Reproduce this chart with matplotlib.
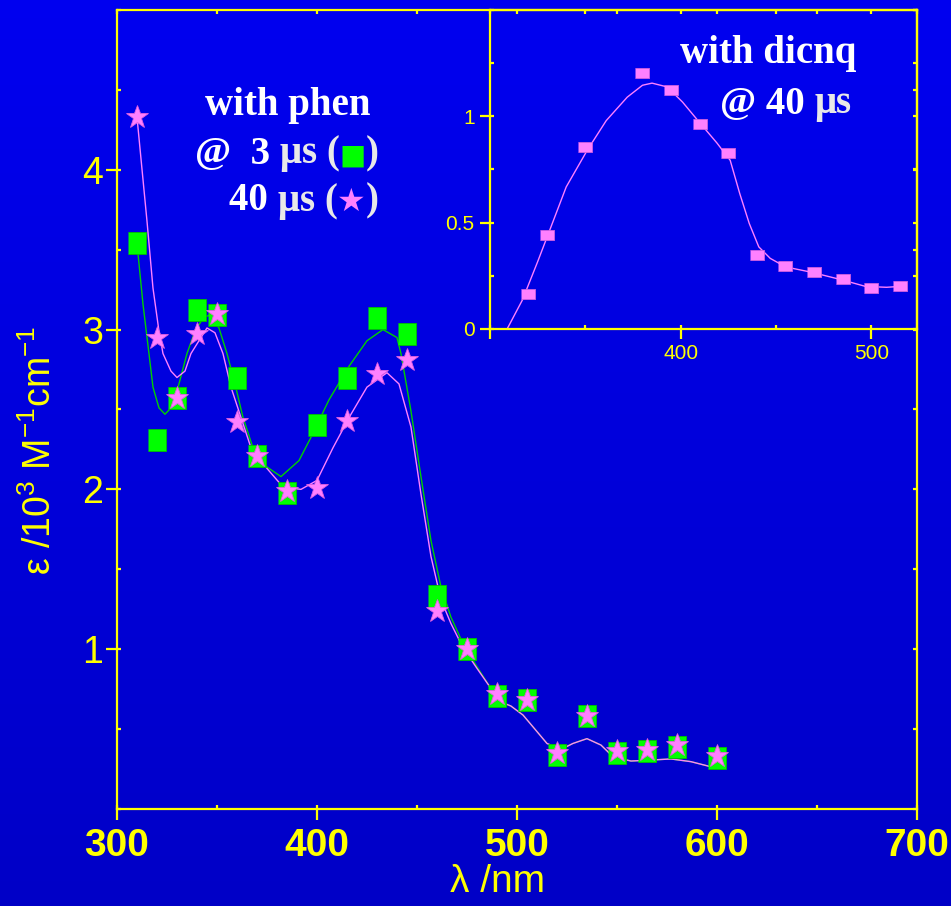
import numpy as np
import matplotlib
matplotlib.use("Agg")
import matplotlib.pyplot as plt
from matplotlib.ticker import MultipleLocator, FixedLocator
from matplotlib.offsetbox import TextArea, HPacker, AnnotationBbox

# measured points, main panel (epsilon / 10^3 M^-1 cm^-1)
wl = [310, 320, 330, 340, 350, 360, 370, 385, 400, 415, 430, 445, 460, 475,
      490, 505, 520, 535, 550, 565, 580, 600]
eps_3us = [3.54, 2.31, 2.57, 3.12, 3.09, 2.70, 2.21, 1.98, 2.40, 2.70, 3.07, 2.97,
           1.33, 1.00, 0.71, 0.68, 0.34, 0.58, 0.35, 0.36, 0.39, 0.32]
eps_40us = [4.33, 2.95, 2.57, 2.97, 3.10, 2.42, 2.21, 1.99, 2.01, 2.43, 2.72, 2.81,
            1.24, 1.00, 0.72, 0.68, 0.35, 0.58, 0.36, 0.37, 0.40, 0.33]

# smooth fit curves
fit3_wl = [310, 313, 316, 318, 321, 324, 327, 331, 335, 339, 343, 346, 351, 355,
           359, 363, 368, 375, 382, 391, 398, 406, 416, 425, 433, 440, 442, 447,
           452, 457, 462, 467, 473, 480, 487, 490, 497, 503, 508, 515, 522, 528,
           535, 542, 548, 557, 567, 577, 587, 597, 600]
fit3_eps = [3.54, 3.16, 2.85, 2.64, 2.51, 2.47, 2.51, 2.66, 2.85, 2.99, 3.07, 3.09,
            3.01, 2.85, 2.66, 2.45, 2.26, 2.14, 2.08, 2.18, 2.35, 2.56, 2.77, 2.93,
            3.00, 2.95, 2.85, 2.49, 2.08, 1.68, 1.39, 1.20, 1.035, 0.89, 0.754,
            0.68, 0.644, 0.588, 0.514, 0.41, 0.373, 0.41, 0.44, 0.40, 0.327, 0.30,
            0.306, 0.313, 0.296, 0.264, 0.26]
fit40_wl = [310, 315, 318, 321, 323, 327, 330, 334, 337, 342, 345, 349, 353, 357,
            362, 367, 373, 383, 392, 400, 408, 417, 425, 435, 441, 447, 452, 457,
            462, 467, 473, 480, 487, 490, 497, 503, 508, 515, 522, 528, 535, 542,
            548, 557, 567, 577, 587, 597, 600]
fit40_eps = [4.33, 3.68, 3.26, 2.99, 2.85, 2.74, 2.70, 2.74, 2.85, 2.95, 3.01, 2.98,
             2.85, 2.64, 2.45, 2.26, 2.16, 2.015, 2.00, 2.056, 2.26, 2.47, 2.64,
             2.73, 2.66, 2.39, 1.97, 1.58, 1.31, 1.16, 1.01, 0.88, 0.754, 0.68,
             0.644, 0.588, 0.514, 0.41, 0.373, 0.41, 0.44, 0.40, 0.327, 0.30,
             0.306, 0.313, 0.296, 0.264, 0.26]

# inset: with dicnq @ 40 us
ins_wl = [320, 330, 350, 380, 395, 410, 425, 440, 455, 470, 485, 500, 515]
ins_eps = [0.163, 0.443, 0.854, 1.203, 1.125, 0.966, 0.826, 0.346, 0.294, 0.266,
           0.233, 0.192, 0.200]
ins_fit_wl = [309, 317, 325, 332, 340, 351, 361, 372, 380, 385, 393, 401, 410, 419,
              426, 431, 436, 441, 447, 455, 469, 485, 497, 508, 515]
ins_fit_eps = [0.0, 0.136, 0.316, 0.48, 0.668, 0.84, 0.98, 1.09, 1.146, 1.156,
               1.138, 1.067, 0.97, 0.875, 0.793, 0.637, 0.496, 0.386, 0.332, 0.292,
               0.266, 0.23, 0.20, 0.196, 0.20]

YEL = '#ffff00'
GREEN = '#00ff00'
PINK = '#ff80ff'

plt.rcParams['font.family'] = ['Liberation Sans', 'DejaVu Sans']
plt.rcParams['mathtext.fontset'] = 'custom'
plt.rcParams['mathtext.rm'] = 'Liberation Sans'
plt.rcParams['mathtext.it'] = 'Liberation Sans'

fig = plt.figure(figsize=(9.51, 9.06), dpi=100)

# blue gradient background
bg = fig.add_axes([0, 0, 1, 1], zorder=-10)
grad = np.linspace(0.94, 0.78, 256).reshape(-1, 1)
rgb = np.zeros((256, 1, 3))
rgb[:, :, 2] = grad
bg.imshow(rgb, aspect='auto', extent=[0, 1, 0, 1])
bg.axis('off')

# main panel
ax = fig.add_axes([0.1230, 0.1071, 0.8412, 0.8819])
ax.set_facecolor('none')
ax.plot(fit3_wl, fit3_eps, color='#00d000', lw=1.0, zorder=2)
ax.plot(fit40_wl, fit40_eps, color=PINK, lw=1.0, zorder=3)
ax.plot(wl, eps_3us, ls='none', marker=[(-0.39, -0.5), (0.39, -0.5), (0.39, 0.5), (-0.39, 0.5)],
        markersize=16, color=GREEN, mec='#00c000', mew=0.6, zorder=4)
ax.plot(wl, eps_40us, ls='none', marker='*', markersize=17, color=PINK,
        mec='#e060e0', mew=0.6, zorder=5)

ax.set_xlim(300, 700)
ax.set_ylim(0, 5)
ax.set_xticks([300, 400, 500, 600, 700])
ax.set_yticks([1, 2, 3, 4])
ax.xaxis.set_minor_locator(MultipleLocator(50))
ax.yaxis.set_minor_locator(MultipleLocator(0.5))
ax.xaxis.remove_overlapping_locs = False
ax.yaxis.remove_overlapping_locs = False
for s in ax.spines.values():
    s.set_color(YEL)
    s.set_linewidth(1.6)
ax.tick_params(which='major', direction='out', length=8, width=1.6, color=YEL,
               labelcolor=YEL)
ax.tick_params(axis='x', which='major', labelsize=28, pad=6)
ax.tick_params(axis='y', which='major', labelsize=27, pad=2)
ax.tick_params(which='minor', direction='in', length=3, width=1.6, color=YEL,
               top=True, right=True)
for lab in ax.get_xticklabels():
    lab.set_fontweight('bold')

ax.set_xlabel('λ /nm', color=YEL, fontsize=28)
ax.xaxis.set_label_coords(0.476, -0.069)
ax.set_ylabel('ε /10$^{3}$ M$^{-1}$cm$^{-1}$', color=YEL, fontsize=27)
ax.yaxis.set_label_coords(-0.072, 0.449)

# legend-like text block
serif = ['Liberation Serif', 'DejaVu Serif']
fig.text(0.3028, 1 - 115 / 906, 'with phen', ha='center', va='baseline',
         color='white', fontsize=28, fontweight='bold', family=serif)


def text_line(parts, xy):
    boxes = [TextArea(s, textprops=dict(color=c, fontsize=fs, fontweight='bold',
                                        family=fam)) for s, c, fs, fam in parts]
    box = HPacker(children=boxes, align='baseline', pad=0, sep=0)
    ab = AnnotationBbox(box, xy, xycoords='figure fraction', frameon=False,
                        box_alignment=(0.5, 0.5), pad=0)
    fig.add_artist(ab)


text_line([('@  3 ', 'white', 28, serif), ('μs (', '#e8e8e8', 28, serif),
           ('■', GREEN, 20, ['DejaVu Sans']), (')', '#e8e8e8', 28, serif)],
          (287 / 951, 1 - 154 / 906))
text_line([('40 ', 'white', 28, serif), ('μs (', '#e8e8e8', 28, serif),
           ('★', PINK, 23, ['DejaVu Sans']), (')', '#e8e8e8', 28, serif)],
          (304 / 951, 1 - 201 / 906))

# inset
axin = fig.add_axes([0.5152, 0.6369, 0.4491, 0.3521])
axin.set_facecolor('none')
axin.plot(ins_fit_wl, ins_fit_eps, color=PINK, lw=1.0, zorder=2)
axin.plot(ins_wl, ins_eps, ls='none', marker=[(-0.5, -0.37), (0.5, -0.37), (0.5, 0.37), (-0.5, 0.37)],
          markersize=10, color=PINK, mec='#d060e0', mew=0.6, zorder=3)
axin.set_xlim(300, 524)
axin.set_ylim(0, 1.5)
axin.set_xticks([300, 400, 500])
axin.set_xticklabels(['', '400', '500'])
axin.set_yticks([0, 0.5, 1])
axin.set_yticklabels(['0', '0.5', '1'])
axin.xaxis.set_minor_locator(FixedLocator([300, 350, 400, 450, 500]))
axin.yaxis.set_minor_locator(MultipleLocator(0.25))
axin.xaxis.remove_overlapping_locs = False
axin.yaxis.remove_overlapping_locs = False
for s in axin.spines.values():
    s.set_color(YEL)
    s.set_linewidth(1.6)
axin.tick_params(which='major', direction='out', length=7, width=1.6, color=YEL,
                 labelcolor=YEL, labelsize=15, pad=4)
axin.tick_params(which='minor', direction='in', length=3, width=1.6, color=YEL,
                 top=True, right=True)

fig.text(768 / 951, 1 - 63 / 906, 'with dicnq', ha='center', va='baseline',
         color='white', fontsize=28, fontweight='bold', family=serif)
text_line([('@ 40 ', 'white', 28, serif), ('μs', '#e8e8e8', 28, serif)],
          (786 / 951, 1 - 104 / 906))

fig.savefig('out.png', dpi=100)
